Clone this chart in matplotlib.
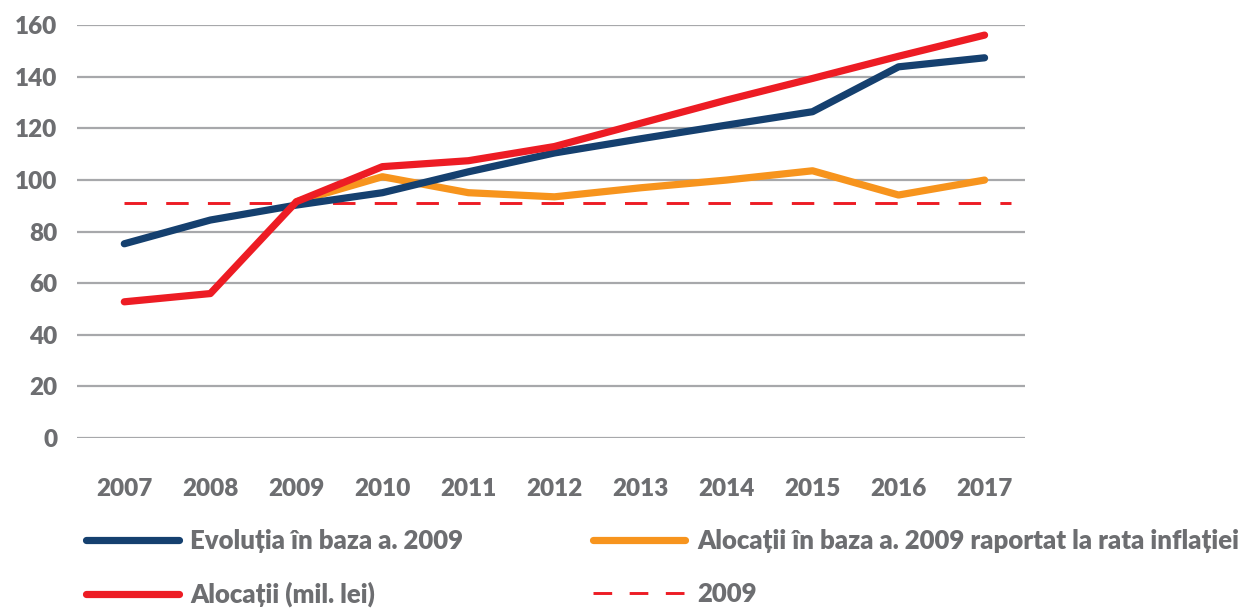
import matplotlib
matplotlib.use("Agg")
import matplotlib.pyplot as plt
from matplotlib.lines import Line2D

years = [2007, 2008, 2009, 2010, 2011, 2012, 2013, 2014, 2015, 2016, 2017]
evolutia = [75.3, 84.5, 90.3, 95.1, 103.2, 110.5, 116, 121.3, 126.5, 143.9, 147.4]
alocatii = [52.8, 56, 91.6, 105.2, 107.5, 113, 122, 131, 139.4, 148, 156.2]
infl_years = [2009, 2010, 2011, 2012, 2013, 2014, 2015, 2016, 2017]
alocatii_infl = [91.6, 101.3, 95.1, 93.5, 97, 100, 103.6, 94.2, 100]
baza_2009 = 91.3
yticks = [0, 20, 40, 60, 80, 100, 120, 140, 160]

labels = ["Evoluția în baza a. 2009", "Alocații (mil. lei)",
          "Alocații în baza a. 2009 raportat la rata inflației", "2009"]

NAVY = "#15406f"
RED = "#ed1c24"
ORANGE = "#f7941d"
TXT = "#6d6e71"
GRID = "#a7a8ab"

plt.rcParams['font.family'] = ['Lato', 'DejaVu Sans']
plt.rcParams['font.weight'] = 'heavy'

fig = plt.figure(figsize=(12.51, 6.09), dpi=100)
ax = fig.add_axes([77/1251, 1-438/609, (1025-77)/1251, (438-25.3)/609])

lw = 5.2
dash = (0, (7.7, 6.6))
ax.hlines(baza_2009, years[0], years[-1] + 0.31, colors=RED, linestyles=dash, lw=2.1, zorder=2)
ax.plot(infl_years, alocatii_infl, color=ORANGE, lw=lw, solid_capstyle='round', solid_joinstyle='round', zorder=3)
ax.plot(years, evolutia, color=NAVY, lw=lw, solid_capstyle='round', solid_joinstyle='round', zorder=4)
ax.plot(years, alocatii, color=RED, lw=lw, solid_capstyle='round', solid_joinstyle='round', zorder=5)

ax.set_xlim(2006.45, 2017.47)
ax.set_ylim(0, 160)
ax.set_yticks(yticks)
ax.set_xticks(years)
ax.set_xticklabels([str(y) for y in years])
ax.grid(axis='y', color=GRID, lw=1.6)
ax.set_axisbelow(True)
for s in ax.spines.values():
    s.set_visible(False)
ax.tick_params(axis='both', length=0, labelsize=17.5, labelcolor=TXT)
ax.tick_params(axis='y', pad=14)
ax.tick_params(axis='x', pad=29)

handles = [
    Line2D([], [], color=NAVY, lw=lw, solid_capstyle='round'),
    Line2D([], [], color=RED, lw=lw, solid_capstyle='round'),
    Line2D([], [], color=ORANGE, lw=lw, solid_capstyle='round'),
    Line2D([], [], color=RED, lw=2.1, linestyle=(0, (6.4, 6.0))),
]
leg = fig.legend(handles, labels, ncol=2, loc='upper left', bbox_to_anchor=(86/1251, 1-529/609),
                 frameon=False, fontsize=18.5, handlelength=3.6, handletextpad=0.45,
                 columnspacing=5.05, labelspacing=1.12, borderaxespad=0, borderpad=0)
for t in leg.get_texts():
    t.set_color(TXT)

fig.savefig("out.png", dpi=100)
